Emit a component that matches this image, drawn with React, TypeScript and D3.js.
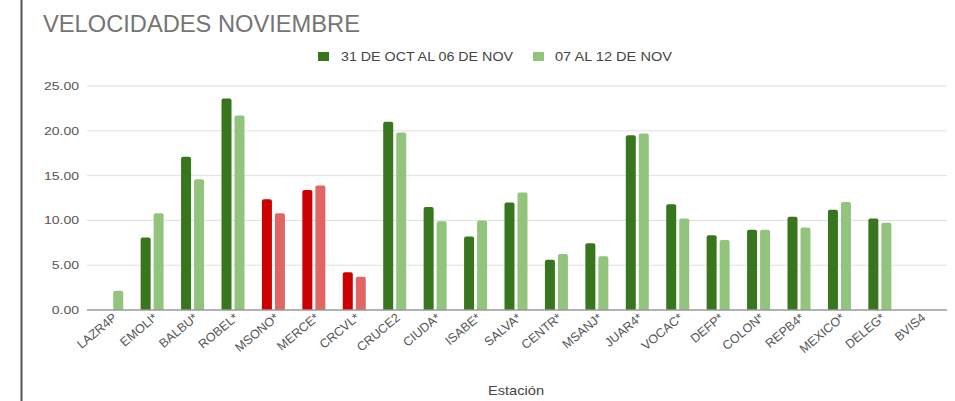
import React from "react";
import * as d3 from "d3";

const categories = ["LAZR4P","EMOLI*","BALBU*","ROBEL*","MSONO*","MERCE*","CRCVL*","CRUCE2","CIUDA*","ISABE*","SALVA*","CENTR*","MSANJ*","JUAR4*","VOCAC*","DEFP*","COLON*","REPB4*","MEXICO*","DELEG*","BVIS4"];
const series1 = [0, 8.1, 17.1, 23.6, 12.35, 13.4, 4.2, 21.0, 11.5, 8.2, 12.0, 5.6, 7.45, 19.5, 11.8, 8.35, 8.95, 10.4, 11.2, 10.2, 0];
const series2 = [2.15, 10.8, 14.6, 21.7, 10.8, 13.9, 3.7, 19.8, 9.9, 10.0, 13.1, 6.25, 6.0, 19.7, 10.2, 7.8, 8.95, 9.2, 12.05, 9.75, 0];
const redCats = ["MSONO*", "MERCE*", "CRCVL*"];
const seriesNames = ["31 DE OCT AL 06 DE NOV", "07 AL 12 DE NOV"];
const yTicks = [0, 5, 10, 15, 20, 25];

const W = 955, H = 401;
const FONT = "Arial, 'Liberation Sans', sans-serif";
const SX = 1.22;

export default function App() {
  const x = d3.scaleBand<string>().domain(categories).range([91.5, 940.5]);
  const y = d3.scaleLinear().domain([0, 25]).range([310, 86]);
  const bw = 10, gap = 3;
  const colors = (cat: string, s: number) => {
    const red = redCats.includes(cat);
    if (s === 0) return red ? "#cc0000" : "#38761d";
    return red ? "#e06666" : "#93c47d";
  };
  const barPath = (x0: number, v: number) => {
    const y0 = y(0), y1 = y(v), r = 2;
    if (v <= 0) return "";
    return `M${x0},${y0} V${y1 + r} Q${x0},${y1} ${x0 + r},${y1} H${x0 + bw - r} Q${x0 + bw},${y1} ${x0 + bw},${y1 + r} V${y0} Z`;
  };
  return (
    <svg width={W} height={H} style={{ position: "absolute", left: 0, top: 0, background: "#fff" }}>
      <rect width={W} height={H} fill="#fff" />
      <line x1={21.5} x2={21.5} y1={0} y2={H} stroke="#555" strokeWidth={2} />
      <text x={43} y={32} fontFamily={FONT} fontSize={24} fill="#757575" textLength={317} lengthAdjust="spacingAndGlyphs">VELOCIDADES NOVIEMBRE</text>
      {/* legend */}
      <rect x={318} y={52} width={11} height={9} fill="#38761d" />
      <text x={341} y={61} fontFamily={FONT} fontSize={12} fill="#444" textLength={172} lengthAdjust="spacingAndGlyphs">{seriesNames[0]}</text>
      <rect x={533} y={52} width={11} height={9} fill="#93c47d" />
      <text x={555} y={61} fontFamily={FONT} fontSize={12} fill="#444" textLength={117} lengthAdjust="spacingAndGlyphs">{seriesNames[1]}</text>
      {/* grid */}
      {yTicks.map((t) => (
        <g key={t}>
          {t !== 0 && <line x1={87} x2={947} y1={y(t)} y2={y(t)} stroke="#e0e0e0" strokeWidth={1} />}
          <text transform={`translate(79,${y(t) + 4}) scale(${SX},1)`} textAnchor="end" fontFamily={FONT} fontSize={11.5} fill="#555">{t.toFixed(2)}</text>
        </g>
      ))}
      {/* bars */}
      {categories.map((c, i) => {
        const cx = (x(c) as number) + x.bandwidth() / 2;
        return (
          <g key={c}>
            <path d={barPath(cx - gap / 2 - bw, series1[i])} fill={colors(c, 0)} />
            <path d={barPath(cx + gap / 2, series2[i])} fill={colors(c, 1)} />
          </g>
        );
      })}
      <line x1={87} x2={947} y1={y(0)} y2={y(0)} stroke="#999" strokeWidth={1.5} />
      {/* x labels */}
      {categories.map((c) => {
        const cx = (x(c) as number) + x.bandwidth() / 2 + 6;
        return (
          <text key={c} transform={`translate(${cx},${319}) rotate(-40)`} textAnchor="end" fontFamily={FONT} fontSize={12.5} fill="#555">{c}</text>
        );
      })}
      <text transform={`translate(516,395) scale(${SX},1)`} textAnchor="middle" fontFamily={FONT} fontSize={12} fill="#444">Estación</text>
    </svg>
  );
}
